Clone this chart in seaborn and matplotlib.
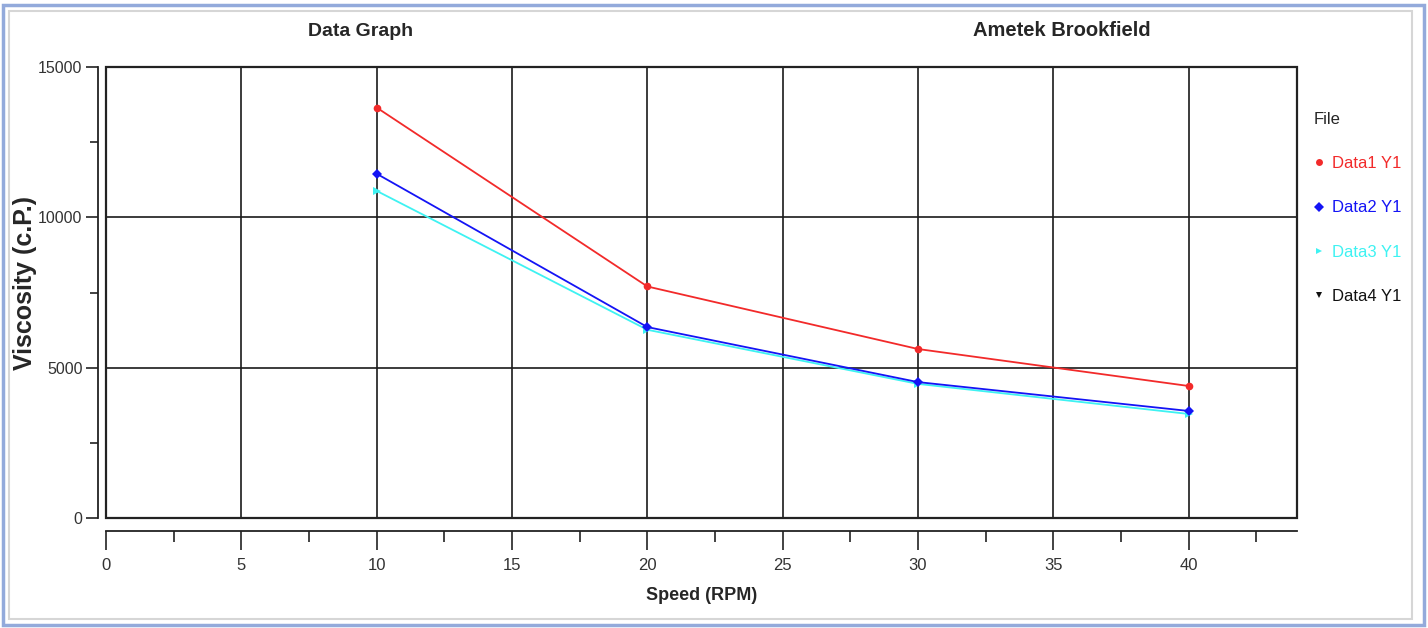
import matplotlib
matplotlib.use("Agg")
import matplotlib.pyplot as plt
from matplotlib.lines import Line2D
from matplotlib.patches import Rectangle
from matplotlib.ticker import MultipleLocator
import seaborn as sns
import pandas as pd

# data
speed = [10, 20, 30, 40]
data1_y1 = [13650, 7700, 5620, 4390]
data2_y1 = [11450, 6350, 4520, 3560]
data3_y1 = [10880, 6260, 4460, 3460]
data4_y1 = []  # listed in the legend, no visible points

series_names = ["Data1 Y1", "Data2 Y1", "Data3 Y1", "Data4 Y1"]
series_colors = ["#f22a2a", "#1414f5", "#3ef2f2", "#111111"]
series_markers = ["o", "D", ">", "v"]

rows = []
for name, vals in zip(series_names, [data1_y1, data2_y1, data3_y1, data4_y1]):
    for s, v in zip(speed, vals):
        rows.append({"Speed": s, "Viscosity": v, "File": name})
df = pd.DataFrame(rows)

sns.set_style("white")
plt.rcParams["font.family"] = ["Liberation Sans Narrow", "Liberation Sans", "DejaVu Sans"]

fig = plt.figure(figsize=(14.28, 6.28), dpi=100)
ax = fig.add_axes([106 / 1428, 1 - 518 / 628, (1297 - 106) / 1428, (518 - 67) / 628])

# outer window frame
fig.patches.append(Rectangle((3 / 1428, 3 / 628), 1421 / 1428, 620 / 628, transform=fig.transFigure,
                             fill=False, edgecolor="#93aadb", lw=2.5))
fig.patches.append(Rectangle((9 / 1428, 9 / 628), 1403 / 1428, 608 / 628, transform=fig.transFigure,
                             fill=False, edgecolor="#d6d6d6", lw=1.5))

color_map = dict(zip(series_names, series_colors))
marker_map = dict(zip(series_names, series_markers))
draw_order = ["Data3 Y1", "Data2 Y1", "Data1 Y1"]
sns.lineplot(data=df, x="Speed", y="Viscosity", hue="File", style="File",
             hue_order=draw_order, style_order=draw_order,
             palette=color_map, markers=marker_map, dashes=False,
             markersize=5.5, markeredgewidth=0, linewidth=1.3, legend=False, ax=ax)

ax.set_xlim(0, 44)
ax.set_ylim(0, 15000)
ax.xaxis.set_major_locator(MultipleLocator(5))
ax.xaxis.set_minor_locator(MultipleLocator(2.5))
ax.yaxis.set_major_locator(MultipleLocator(5000))
ax.yaxis.set_minor_locator(MultipleLocator(2500))
ax.grid(True, which="major", color="#1a1a1a", lw=1.2)

for side in ["top", "right"]:
    ax.spines[side].set_visible(False)
ax.spines["left"].set_position(("outward", 6))
ax.spines["bottom"].set_position(("outward", 9))
for side in ["left", "bottom"]:
    ax.spines[side].set_color("#222222")
    ax.spines[side].set_linewidth(1.3)
# plot box
ax.add_patch(Rectangle((0, 0), 1, 1, transform=ax.transAxes, fill=False,
                       edgecolor="#222222", lw=1.6, clip_on=False, zorder=5))

ax.tick_params(axis="both", which="both", bottom=True, left=True, direction="out",
               color="#222222", width=1.2)
ax.tick_params(axis="both", which="major", length=9, labelsize=11.5, labelcolor="#333333")
ax.tick_params(axis="both", which="minor", length=6)
ax.tick_params(axis="x", which="major", length=14, pad=6, labelsize=12)
ax.tick_params(axis="x", which="minor", length=8)
ax.tick_params(axis="y", which="major", pad=2)

ax.set_xlabel("Speed (RPM)", fontsize=13, fontweight="bold", labelpad=10)
ax.set_ylabel("Viscosity (c.P.)", fontsize=18, fontweight="bold",
              family=["Liberation Sans", "DejaVu Sans"])
ax.yaxis.set_label_coords((37 - 106) / 1191, 0.52)

fig.text(361 / 1428, 1 - 31 / 628, "Data Graph", ha="center", va="center", fontsize=14, fontweight="bold")
fig.text(1062 / 1428, 1 - 31 / 628, "Ametek Brookfield", ha="center", va="center", fontsize=14.5, fontweight="bold")

handles = [Line2D([], [], color=c, marker=m, linestyle="none", markersize=5, markeredgewidth=0)
           for c, m in zip(series_colors, series_markers)]
leg = ax.legend(handles, series_names, title="File", loc="upper left",
                bbox_to_anchor=(1299 / 1428, 1 - 97 / 628), bbox_transform=fig.transFigure,
                frameon=False, fontsize=12, title_fontsize=12, labelspacing=1.75,
                handlelength=0.6, handletextpad=0.45, alignment="left",
                labelcolor=series_colors)

fig.savefig("out.png", dpi=100)
